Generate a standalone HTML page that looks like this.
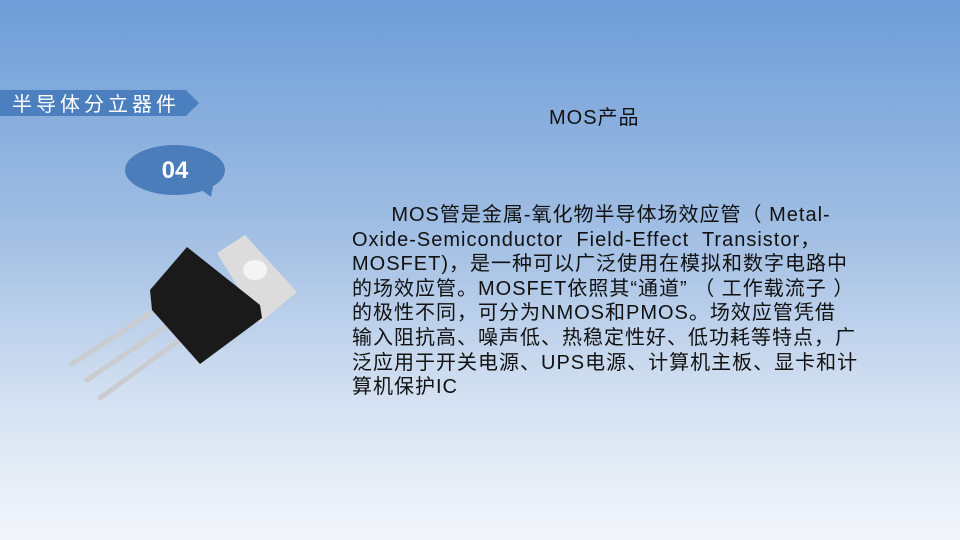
<!DOCTYPE html>
<html><head><meta charset="utf-8"><style>
body{margin:0}
#s{position:relative;width:960px;height:540px;overflow:hidden;background:linear-gradient(180deg,#6d9dd7 0%,#a4c0e4 45%,#d6e2f2 75%,#f3f6fb 100%);font-family:"Liberation Sans","Noto Sans CJK SC",sans-serif}
.t{position:absolute;left:352px;top:203px;font-size:20px;line-height:24.6px;color:#111;white-space:nowrap;letter-spacing:1px}
</style></head><body><div id="s">
<svg width="960" height="540" style="position:absolute;left:0;top:0">
<polygon points="0,90 186,90 199,103 186,116 0,116" fill="#4b7fbf"/>
<ellipse cx="175" cy="170" rx="50" ry="25" fill="#4a7dba"/>
<polygon points="195,185 211,197 214,180" fill="#4a7dba"/>
<g stroke="#c9ccd0" stroke-width="5" stroke-linecap="round">
<line x1="160" y1="307" x2="72" y2="364"/>
<line x1="168" y1="325" x2="87" y2="380"/>
<line x1="181" y1="339" x2="100" y2="398"/>
</g>
<polygon points="217,253 245,235 297,292 260,323" fill="#dcdcdc"/>
<ellipse cx="255" cy="270" rx="12" ry="10" fill="#f4f4f4"/>
<polygon points="150,290 187,247 260,305 262,318 200,364 152,310" fill="#1a1a1a"/>
<text x="175" y="178" fill="#fff" font-size="24" font-weight="bold" text-anchor="middle" font-family="Liberation Sans">04</text>
<text x="12" y="111" fill="#fff" font-size="20" font-family="Liberation Sans,Noto Sans CJK SC,sans-serif" letter-spacing="4">半导体分立器件</text>
</svg>
<div style="position:absolute;left:549px;top:101px;font-size:20px;color:#111;letter-spacing:1px">MOS产品</div>
<div class="t">&nbsp;&nbsp;&nbsp;&nbsp;&nbsp;&nbsp;MOS管是金属-氧化物半导体场效应管（ Metal-<br>Oxide-Semiconductor&nbsp; Field-Effect&nbsp; Transistor，<br>MOSFET)，是一种可以广泛使用在模拟和数字电路中<br>的场效应管。MOSFET依照其“通道” （ 工作载流子 ）<br>的极性不同，可分为NMOS和PMOS。场效应管凭借<br>输入阻抗高、噪声低、热稳定性好、低功耗等特点，广<br>泛应用于开关电源、UPS电源、计算机主板、显卡和计<br>算机保护IC</div>
</div></body></html>
